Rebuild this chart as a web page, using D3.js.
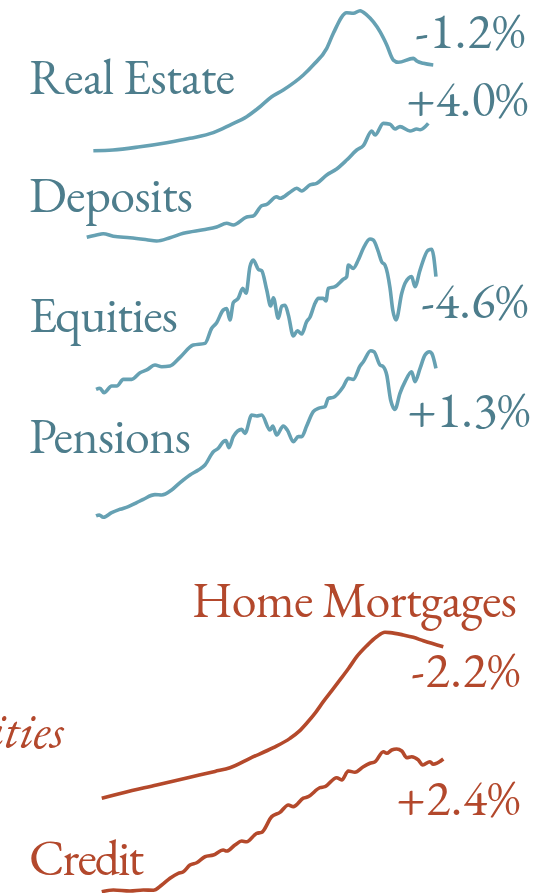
<!DOCTYPE html>
<html>
<head>
<meta charset="utf-8">
<script src="https://cdn.jsdelivr.net/npm/d3@7"></script>
<style>
    body { margin: 0; background: #ffffff; }
    svg { display: block; }
</style>
</head>
<body>
<div id="chart"></div>
<script>
// series data: [year, index] where index is scaled 0 (series low) to 100 (series high)
let realEstate = [[1989.89,0.2],[1991.2,0.7],[1993.0,3.0],[1994.78,5.9],[1996.33,9.0],[1997.89,13.0],[1999.0,18.4],
    [2000.11,24.3],[2001.0,31.4],[2001.78,38.5],[2002.55,43.3],[2003.89,53.9],[2004.55,61.0],[2005.45,72.8],
    [2005.89,83.5],[2006.78,98.1],[2007.22,97.7],[2007.67,99.5],[2008.11,96.5],[2009.0,84.6],[2009.45,75.2],
    [2009.89,64.5],[2010.22,62.9],[2011.22,65.7],[2011.45,63.8],[2011.89,62.2],[2012.55,61.0]];

let deposits = [[1989.45,3.1],[1990.33,5.7],[1990.55,6.2],[1991.22,4.0],[1992.33,2.8],[1993.45,1.1],[1994.11,0],
    [1995.0,2.8],[1995.89,6.5],[1997.22,9.6],[1998.11,11.9],[1998.78,15.0],[1999.22,13.6],[2000.11,20.3],
    [2000.55,21.2],[2001.11,29.9],[2001.45,31.1],[2002.11,37.5],[2002.33,36.2],[2003.0,41.3],[2003.45,44.7],
    [2003.78,42.4],[2004.33,47.5],[2004.78,48.9],[2005.45,55.9],[2006.11,61.0],[2006.78,68.6],[2007.45,77.1],
    [2007.89,80.8],[2008.45,93.2],[2008.67,89.8],[2009.22,99.7],[2009.67,98.9],[2010.0,94.9],[2010.33,96.9],
    [2011.0,93.2],[2011.45,94.9],[2011.67,94.3],[2012.22,99.7]];

let equities = [[1990.07,2.2],[1990.33,2.9],[1990.6,0],[1991.11,4.4],[1991.45,4.4],[1991.89,8.7],[1992.45,8.7],
    [1993.0,13.0],[1993.45,14.8],[1994.0,18.0],[1994.45,16.9],[1995.0,17.4],[1995.67,23.0],[1996.55,31.0],
    [1997.33,32.1],[1997.78,41.9],[1998.11,45.5],[1998.55,53.8],[1998.78,54.7],[1999.0,47.3],[1999.22,58.6],
    [1999.55,61.4],[1999.85,67.9],[2000.07,64.7],[2000.33,82.0],[2000.55,86.3],[2000.89,80.3],[2001.11,79.4],
    [2001.45,66.8],[2001.71,56.4],[2001.89,61.8],[2002.22,48.4],[2002.45,56.4],[2002.67,56.9],[2002.89,50.6],
    [2003.22,36.9],[2003.49,40.3],[2003.78,38.2],[2004.11,46.2],[2004.33,49.1],[2004.67,58.2],[2004.89,61.4],
    [2005.22,61.4],[2005.4,59.7],[2005.55,67.9],[2006.0,69.0],[2006.55,73.8],[2006.78,75.5],[2006.89,83.1],
    [2007.22,80.9],[2007.55,86.3],[2007.89,94.0],[2008.33,100],[2008.55,99.3],[2008.89,91.7],[2009.11,85.2],
    [2009.33,83.1],[2009.67,67.9],[2009.85,53.8],[2010.07,47.3],[2010.45,64.7],[2010.67,71.2],[2011.11,75.5],
    [2011.33,69.0],[2011.67,79.8],[2012.22,92.8],[2012.45,93.3],[2012.73,75.5]];

let pensions = [[1990.07,0.8],[1990.29,1.4],[1990.55,0],[1991.11,2.8],[1991.67,4.8],[1992.22,6.4],[1992.78,8.8],
    [1993.22,10.8],[1994.0,13.6],[1994.45,13.4],[1995.11,16.4],[1995.67,20.8],[1996.33,25.4],[1996.89,28.4],
    [1997.33,31.4],[1997.89,39.4],[1998.22,41.4],[1998.55,45.4],[1998.73,46.0],[1998.93,41.8],[1999.22,48.4],
    [1999.78,52.8],[2000.0,50.4],[2000.45,61.4],[2000.78,60.8],[2001.11,61.4],[2001.67,52.4],[2001.85,54.8],
    [2002.11,49.4],[2002.55,54.8],[2002.82,52.4],[2003.22,45.4],[2003.55,48.4],[2003.78,48.4],[2004.11,54.8],
    [2004.55,63.4],[2004.89,65.4],[2005.33,66.4],[2005.55,71.4],[2005.89,72.0],[2006.55,78.4],[2006.89,83.4],
    [2007.22,82.8],[2007.67,90.8],[2007.89,93.4],[2008.38,100],[2008.6,99.4],[2009.0,91.4],[2009.22,90.4],
    [2009.45,85.4],[2009.71,70.4],[2010.0,64.8],[2010.33,74.4],[2010.67,81.4],[2011.11,87.4],[2011.33,81.4],
    [2011.67,89.4],[2012.0,97.4],[2012.29,99.4],[2012.45,98.4],[2012.73,89.4]];

let mortgages = [[1990.45,0],[1991.89,3.4],[1994.11,8.0],[1996.33,12.7],[1998.0,16.2],[1999.0,18.4],[2000.33,24.1],
    [2001.89,30.5],[2003.0,36.1],[2003.6,40.3],[2004.11,45.2],[2004.7,51.6],[2005.22,58.2],[2005.8,65.0],
    [2006.33,71.3],[2006.9,78.2],[2007.45,85.3],[2008.11,91.8],[2008.78,97.3],[2009.33,100],[2009.67,99.8],
    [2010.55,98.4],[2011.22,97.0],[2011.89,94.9],[2013.22,91.3]];

let credit = [[1990.45,0],[1991.22,1.2],[1992.33,0.5],[1993.22,1.2],[1993.89,1.0],[1994.45,4.7],[1995.0,9.4],
    [1995.55,12.9],[1995.89,14.0],[1996.33,18.7],[1996.78,20.3],[1997.33,24.5],[1997.89,25.7],[1998.55,29.2],
    [1998.78,28.5],[1999.33,32.7],[1999.78,35.5],[2000.11,35.0],[2000.78,40.9],[2001.11,41.6],[2001.78,52.6],
    [2002.33,55.6],[2002.89,60.8],[2003.22,59.6],[2003.89,65.5],[2004.22,66.6],[2005.0,72.9],[2005.33,73.6],
    [2006.11,79.9],[2006.45,78.3],[2006.89,84.6],[2007.33,83.7],[2007.89,87.6],[2008.33,90.0],[2008.67,91.1],
    [2009.22,98.1],[2009.45,97.0],[2009.78,99.3],[2010.11,100],[2010.45,98.6],[2010.78,93.9],[2011.11,94.6],
    [2011.55,92.3],[2011.85,88.8],[2012.33,91.1],[2012.55,89.3],[2013.22,93.0]];

let seriesNames = ['Real Estate', 'Deposits', 'Equities', 'Pensions', 'Home Mortgages', 'Credit'];
let seriesValues = [realEstate, deposits, equities, pensions, mortgages, credit];
let seriesChanges = ['-1.2%', '+4.0%', '-4.6%', '+1.3%', '-2.2%', '+2.4%'];
let seriesGroup = ['assets', 'assets', 'assets', 'assets', 'liabilities', 'liabilities'];
let groupTitle = 'Liabilities';

//layout for each series: vertical band and label placement
let layout = [
    {top: 10, bottom: 151, name: {x: 29, y: 94, anchor: 'start', w: 206}, change: {x: 525, y: 48, w: 110}},
    {top: 123, bottom: 241, name: {x: 29, y: 212, anchor: 'start', w: 164}, change: {x: 528, y: 116, w: 122}},
    {top: 239, bottom: 392.7, name: {x: 29, y: 332, anchor: 'start', w: 149}, change: {x: 528, y: 318, w: 107}},
    {top: 350.7, bottom: 517.3, name: {x: 29, y: 453, anchor: 'start', w: 162}, change: {x: 530, y: 427, w: 123}},
    {top: 632.3, bottom: 798.3, name: {x: 517, y: 617, anchor: 'end', w: 325}, change: {x: 520, y: 687, w: 109}},
    {top: 749, bottom: 891.7, name: {x: 29, y: 875, anchor: 'start', w: 115}, change: {x: 520, y: 815, w: 124}}
];

let colors = {
    assets: {text: '#4d7d8c', line: '#66a1b3'},
    liabilities: {text: '#b3482c', line: '#b4492b'}
};

let totalWidth = 548;
let totalHeight = 893;
let fontSize = '50px';
let fontFamily = '"EB Garamond", Garamond, "Liberation Serif", "DejaVu Serif", serif';

let svg = d3.select('#chart')
    .append('svg')
    .attr('width', totalWidth)
    .attr('height', totalHeight);

//shared time axis
let xScale = d3.scaleLinear()
    .domain([1990, 2013])
    .range([95, 440]);

for (let i = 0; i < seriesValues.length; i++) {
    let l = layout[i];
    let c = colors[seriesGroup[i]];

    let yScale = d3.scaleLinear()
        .domain([0, 100])
        .range([l.bottom, l.top]);

    let line = d3.line()
        .x(function(d) { return xScale(d[0]); })
        .y(function(d) { return yScale(d[1]); })
        .curve(d3.curveMonotoneX);

    svg.append('path')
        .datum(seriesValues[i])
        .attr('fill', 'none')
        .attr('stroke', c.line)
        .attr('stroke-width', 3.6)
        .attr('stroke-linejoin', 'round')
        .attr('d', line);

    svg.append('text')
        .attr('x', l.name.x)
        .attr('y', l.name.y)
        .attr('text-anchor', l.name.anchor)
        .attr('textLength', l.name.w)
        .style('font-family', fontFamily)
        .style('font-size', fontSize)
        .style('fill', c.text)
        .text(seriesNames[i]);

    svg.append('text')
        .attr('x', l.change.x)
        .attr('y', l.change.y)
        .attr('text-anchor', 'end')
        .attr('textLength', l.change.w)
        .style('font-family', fontFamily)
        .style('font-size', fontSize)
        .style('fill', c.text)
        .text(seriesChanges[i]);
}

//group title, cut off at the left edge as in the source graphic
svg.append('text')
    .attr('x', 64)
    .attr('y', 748)
    .attr('text-anchor', 'end')
    .style('font-family', fontFamily)
    .style('font-style', 'italic')
    .style('font-size', fontSize)
    .style('fill', colors.liabilities.text)
    .text(groupTitle);
</script>
</body>
</html>
